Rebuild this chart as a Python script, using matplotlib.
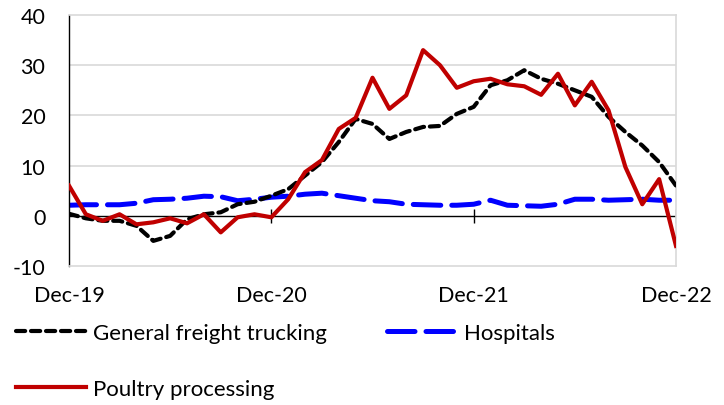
import numpy as np
import matplotlib
matplotlib.use("Agg")
import matplotlib.pyplot as plt

# monthly values, Dec-19 .. Dec-22 (37 points)
tick_labels = ["Dec-19", "Dec-20", "Dec-21", "Dec-22"]
tick_index = [0, 12, 24, 36]

freight = [0.4, -0.5, -1.0, -1.0, -2.0, -5.0, -4.0, -0.7, 0.3, 0.7, 2.3, 2.8, 4.0,
           5.3, 8.0, 10.7, 14.7, 19.3, 18.3, 15.3, 16.7, 17.7, 17.9, 20.3, 21.7,
           26.0, 27.0, 29.0, 27.3, 26.3, 25.0, 23.7, 19.7, 16.7, 14.0, 10.7, 6.0]
hospitals = [2.1, 2.2, 2.2, 2.2, 2.5, 3.2, 3.3, 3.5, 3.9, 3.8, 3.0, 3.3, 3.7,
             3.9, 4.3, 4.5, 4.0, 3.5, 3.0, 2.8, 2.3, 2.2, 2.1, 2.1, 2.3,
             3.1, 2.1, 2.0, 1.9, 2.3, 3.3, 3.3, 3.1, 3.2, 3.3, 3.1, 3.1]
poultry = [6.0, 0.3, -1.0, 0.3, -1.7, -1.3, -0.5, -1.5, 0.3, -3.3, -0.3, 0.3, -0.3,
           3.3, 8.7, 11.1, 17.3, 19.5, 27.5, 21.3, 24.0, 33.0, 30.0, 25.5, 26.8,
           27.3, 26.2, 25.8, 24.1, 28.3, 22.0, 26.7, 21.0, 9.7, 2.3, 7.3, -6.0]

plt.rcParams['font.family'] = ['Lato', 'DejaVu Sans']
plt.rcParams['axes.unicode_minus'] = False

fig = plt.figure(figsize=(7.24, 4.06), dpi=100)
ax = fig.add_axes([0.0953, 0.3424, 0.8384, 0.6182])

x = np.arange(len(poultry))
grid_c = '#d9d9d9'

for v in (10, 20, 30):
    ax.axhline(v, color=grid_c, lw=1.2, zorder=0)

l_freight, = ax.plot(x, freight, color='black', lw=3.0, dashes=(2.2, 1.4),
                     dash_capstyle='round', zorder=3)
l_hosp, = ax.plot(x, hospitals, color='#0000ff', lw=3.6, dashes=(5.5, 2.2),
                  dash_capstyle='round', zorder=2)
l_poultry, = ax.plot(x, poultry, color='#c00000', lw=3.0, zorder=4)

# zero axis line with tick marks
ax.axhline(0, color='black', lw=1.0, zorder=1)
ax.vlines(tick_index[1:], -1.4, 1.4, color='black', lw=1.0, zorder=1)

ax.set_xlim(0, 36)
ax.set_ylim(-10, 40)
ax.set_yticks([-10, 0, 10, 20, 30, 40])
ax.set_xticks(tick_index)
ax.set_xticklabels(tick_labels)
ax.tick_params(axis='both', length=0, labelsize=15.5, colors='black')
ax.tick_params(axis='x', pad=14)
ax.tick_params(axis='y', pad=17)

for side in ('top', 'right', 'bottom'):
    ax.spines[side].set_color(grid_c)
    ax.spines[side].set_linewidth(1.2)
ax.spines['left'].set_color('black')
ax.spines['left'].set_linewidth(1.0)

# column-major fill: order so that row 1 = freight, hospitals; row 2 = poultry
fig.legend([l_freight, l_poultry, l_hosp],
           ['General freight trucking', 'Poultry processing', 'Hospitals'],
           loc='lower left', bbox_to_anchor=(-0.005, -0.035), ncol=2, frameon=False,
           fontsize=16, handlelength=3.15, handletextpad=0.3,
           columnspacing=2.7, labelspacing=1.65)

fig.savefig('out.png', dpi=100)
